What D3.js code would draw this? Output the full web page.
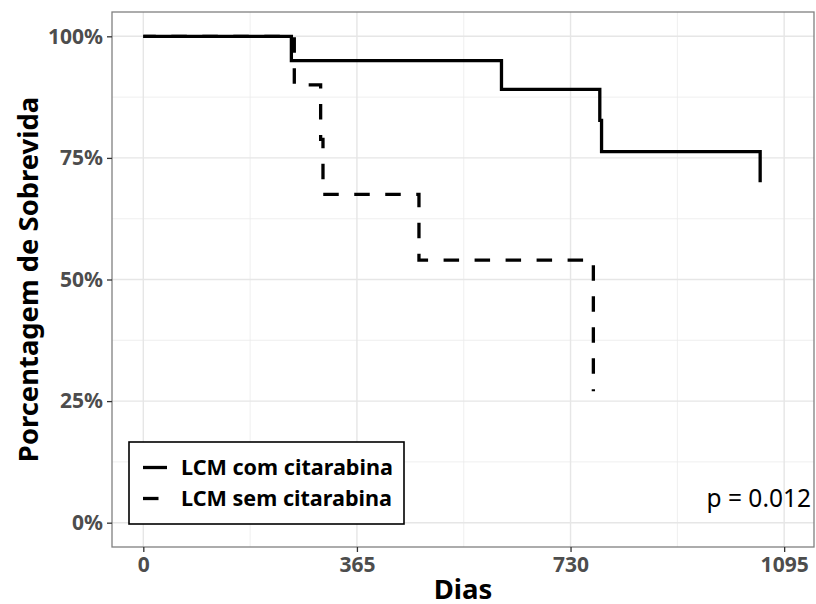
<!DOCTYPE html>
<html>
<head>
<meta charset="utf-8">
<script src="https://cdn.jsdelivr.net/npm/d3@7"></script>
<style>
  html, body { margin: 0; padding: 0; background: #fff; }
  svg { display: block; }
  text { font-family: "Noto Sans", "Open Sans", sans-serif; }
</style>
</head>
<body>
<svg id="chart" width="816" height="604"></svg>
<script>
// Kaplan-Meier survival steps (days, survival fraction)
const comTimes = [0, 253, 612, 780, 783, 1054];
const comSurv  = [1.00, 0.95, 0.891, 0.827, 0.763, 0.700];
const semTimes = [0, 258, 303, 307, 471, 769];
const semSurv  = [1.00, 0.90, 0.788, 0.675, 0.54, 0.27];

const seriesNames = ["LCM com citarabina", "LCM sem citarabina"];
const xTicks = [0, 365, 730, 1095];
const xMinor = [182.5, 547.5, 912.5];
const yTicks = [0, 0.25, 0.5, 0.75, 1];
const yMinor = [0.125, 0.375, 0.625, 0.875];
const yTickLabels = ["0%", "25%", "50%", "75%", "100%"];
const pLabel = "p = 0.012";

const svg = d3.select("#chart");
const panel = { left: 112, right: 814, top: 12, bottom: 547 };

const x = d3.scaleLinear().domain([-53.5, 1146]).range([panel.left, panel.right]);
const y = d3.scaleLinear().domain([-0.05, 1.05]).range([panel.bottom, panel.top]);

// grid
const grid = svg.append("g");
grid.selectAll(".xminor").data(xMinor).enter().append("line")
  .attr("x1", d => x(d)).attr("x2", d => x(d))
  .attr("y1", panel.top).attr("y2", panel.bottom)
  .attr("stroke", "#EBEBEB").attr("stroke-width", 0.8);
grid.selectAll(".yminor").data(yMinor).enter().append("line")
  .attr("y1", d => y(d)).attr("y2", d => y(d))
  .attr("x1", panel.left).attr("x2", panel.right)
  .attr("stroke", "#EBEBEB").attr("stroke-width", 0.8);
grid.selectAll(".xmajor").data(xTicks).enter().append("line")
  .attr("x1", d => x(d)).attr("x2", d => x(d))
  .attr("y1", panel.top).attr("y2", panel.bottom)
  .attr("stroke", "#E6E6E6").attr("stroke-width", 1.4);
grid.selectAll(".ymajor").data(yTicks).enter().append("line")
  .attr("y1", d => y(d)).attr("y2", d => y(d))
  .attr("x1", panel.left).attr("x2", panel.right)
  .attr("stroke", "#E6E6E6").attr("stroke-width", 1.4);

// survival curves
const line = d3.line()
  .x(d => x(d[0])).y(d => y(d[1]))
  .curve(d3.curveStepAfter);

const comData = d3.zip(comTimes, comSurv);
const semData = d3.zip(semTimes, semSurv);

svg.append("path").datum(comData)
  .attr("d", line).attr("fill", "none")
  .attr("stroke", "#000").attr("stroke-width", 3.3);
svg.append("path").datum(semData)
  .attr("d", line).attr("fill", "none")
  .attr("stroke", "#000").attr("stroke-width", 3.3)
  .attr("stroke-dasharray", "15.5 15.5")
  .attr("stroke-dashoffset", 3);

// panel border
svg.append("rect")
  .attr("x", panel.left).attr("y", panel.top)
  .attr("width", panel.right - panel.left).attr("height", panel.bottom - panel.top)
  .attr("fill", "none").attr("stroke", "#808080").attr("stroke-width", 1.3);

// axes
const xAxis = d3.axisBottom(x).tickValues(xTicks).tickSize(5).tickPadding(5).tickFormat(d3.format("d"));
const gx = svg.append("g").attr("transform", `translate(0,${panel.bottom})`).call(xAxis);
gx.select(".domain").remove();
gx.selectAll(".tick line").attr("stroke", "#333").attr("stroke-width", 1.3);
gx.selectAll(".tick text").attr("fill", "#4D4D4D")
  .style("font-size", "21px").style("font-weight", "bold");

const yAxis = d3.axisLeft(y).tickValues(yTicks).tickSize(5).tickPadding(4)
  .tickFormat((d, i) => yTickLabels[i]);
const gy = svg.append("g").attr("transform", `translate(${panel.left},0)`).call(yAxis);
gy.select(".domain").remove();
gy.selectAll(".tick line").attr("stroke", "#333").attr("stroke-width", 1.3);
gy.selectAll(".tick text").attr("fill", "#4D4D4D")
  .style("font-size", "21px").style("font-weight", "bold");

// axis titles
svg.append("text")
  .attr("x", (panel.left + panel.right) / 2).attr("y", 598.5)
  .attr("text-anchor", "middle")
  .style("font-size", "27.5px").style("font-weight", "bold")
  .text("Dias");
svg.append("text")
  .attr("transform", `translate(38,${(panel.top + panel.bottom) / 2}) rotate(-90)`)
  .attr("text-anchor", "middle")
  .style("font-size", "27.4px").style("font-weight", "bold")
  .text("Porcentagem de Sobrevida");

// p-value
svg.append("text")
  .attr("x", 811).attr("y", 507)
  .attr("text-anchor", "end")
  .style("font-size", "24.5px")
  .text(pLabel);

// legend
const legend = svg.append("g");
legend.append("rect")
  .attr("x", 129).attr("y", 442).attr("width", 275).attr("height", 82)
  .attr("fill", "#fff").attr("stroke", "#000").attr("stroke-width", 1.6);
const dashes = [null, "15.5 15.5"];
seriesNames.forEach((name, i) => {
  const cy = 467.5 + i * 31;
  legend.append("line")
    .attr("x1", 143).attr("x2", 167).attr("y1", cy).attr("y2", cy)
    .attr("stroke", "#000").attr("stroke-width", 3.3)
    .attr("stroke-dasharray", dashes[i]);
  legend.append("text")
    .attr("x", 181).attr("y", cy + 7.5)
    .style("font-size", "21.6px").style("font-weight", "bold")
    .text(name);
});
</script>
</body>
</html>
